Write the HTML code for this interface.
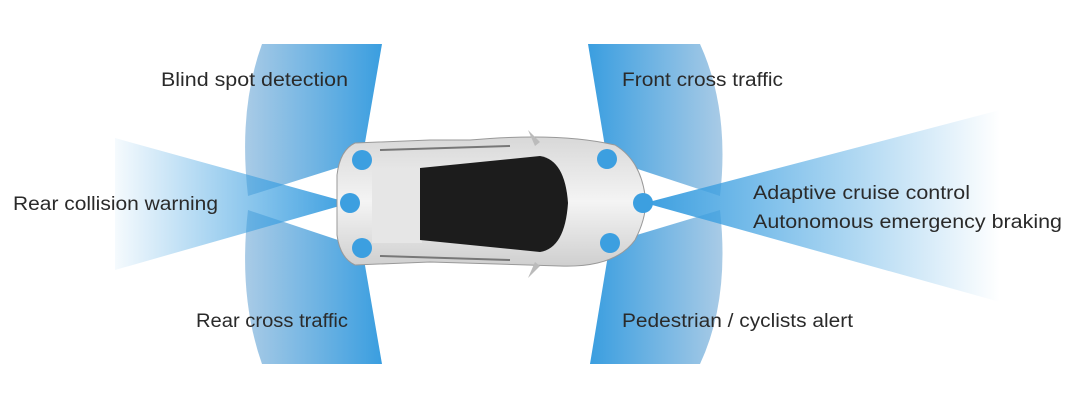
<!DOCTYPE html>
<html><head><style>
html,body{margin:0;padding:0;background:#fff;}
svg{display:block}
text{font-family:"Liberation Sans",sans-serif;font-size:19px;fill:#2a2a2a;}
</style></head><body>
<svg width="1080" height="402" viewBox="0 0 1080 402">
<defs>
<linearGradient id="rl" x1="1" y1="0" x2="0" y2="0"><stop offset="0" stop-color="#3a9ee0"/><stop offset="1" stop-color="#a9cbe6"/></linearGradient>
<linearGradient id="fr" x1="0" y1="0" x2="1" y2="0"><stop offset="0" stop-color="#3a9ee0"/><stop offset="1" stop-color="#a9cbe6"/></linearGradient>
<linearGradient id="bl" x1="1" y1="0" x2="0" y2="0"><stop offset="0" stop-color="#3c9fe0"/><stop offset="1" stop-color="#3c9fe0" stop-opacity="0.05"/></linearGradient>
<linearGradient id="br" x1="0" y1="0" x2="1" y2="0"><stop offset="0" stop-color="#3c9fe0"/><stop offset="1" stop-color="#3c9fe0" stop-opacity="0"/></linearGradient>
<linearGradient id="car" x1="0" y1="0" x2="0" y2="1"><stop offset="0" stop-color="#d8d8d8"/><stop offset="0.5" stop-color="#f4f4f4"/><stop offset="1" stop-color="#cfcfcf"/></linearGradient>
</defs>
<path d="M362 160 L382 44 L262 44 Q238 110 248 196 Z" fill="url(#rl)"/>
<path d="M362 248 L382 364 L262 364 Q238 296 248 210 Z" fill="url(#rl)"/>
<path d="M607 159 L588 44 L700 44 Q730 110 720 196 Z" fill="url(#fr)"/>
<path d="M610 243 L590 364 L700 364 Q730 300 720 210 Z" fill="url(#fr)"/>
<path d="M350 203 L115 138 L115 270 Z" fill="url(#bl)"/>
<path d="M645 203 L1000 110 L1000 302 Z" fill="url(#br)"/>
<path d="M355 143 Q340 150 337 175 L337 235 Q340 258 355 265 L430 262 L560 266 Q615 268 635 240 Q648 215 645 195 Q640 160 615 145 Q560 132 470 140 L430 140 Z" fill="url(#car)" stroke="#999" stroke-width="1"/>
<path d="M528 130 L540 142 L535 146 Z M528 278 L540 266 L535 262 Z" fill="#bbb"/>
<rect x="372" y="168" width="50" height="75" fill="#e6e6e6"/>
<path d="M420 168 L540 156 Q565 160 568 203 Q565 248 540 252 L420 240 Z" fill="#1c1c1c"/>
<path d="M380 150 L510 146 M380 256 L510 260" stroke="#777" stroke-width="2" fill="none"/>
<g fill="#3c9fe0">
<circle cx="362" cy="160" r="10"/><circle cx="350" cy="203" r="10"/><circle cx="362" cy="248" r="10"/>
<circle cx="607" cy="159" r="10"/><circle cx="643" cy="203" r="10"/><circle cx="610" cy="243" r="10"/>
</g>
<text x="161" y="86" textLength="187" lengthAdjust="spacingAndGlyphs">Blind spot detection</text>
<text x="13" y="210" textLength="205" lengthAdjust="spacingAndGlyphs">Rear collision warning</text>
<text x="196" y="327" textLength="152" lengthAdjust="spacingAndGlyphs">Rear cross traffic</text>
<text x="622" y="86" textLength="161" lengthAdjust="spacingAndGlyphs">Front cross traffic</text>
<text x="753" y="199" textLength="217" lengthAdjust="spacingAndGlyphs">Adaptive cruise control</text>
<text x="753" y="228" textLength="309" lengthAdjust="spacingAndGlyphs">Autonomous emergency braking</text>
<text x="622" y="327" textLength="231" lengthAdjust="spacingAndGlyphs">Pedestrian / cyclists alert</text>
</svg>
</body></html>
